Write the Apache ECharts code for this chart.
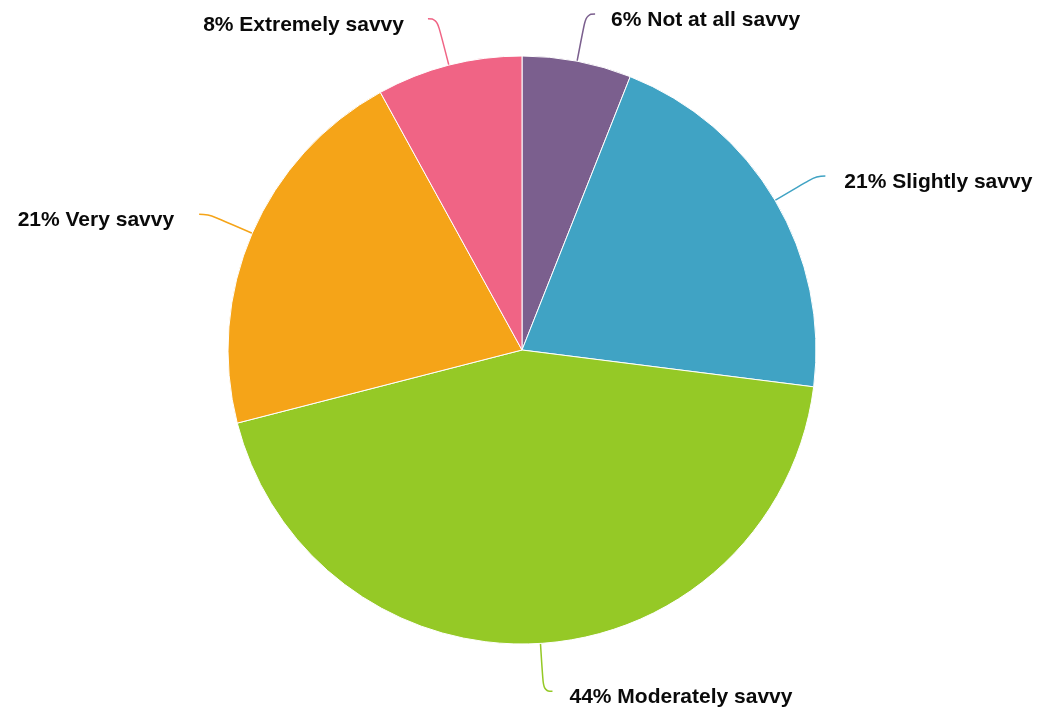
<!DOCTYPE html>
<html>
<head>
<meta charset="utf-8">
<script src="https://cdn.jsdelivr.net/npm/echarts@6/dist/echarts.min.js"></script>
<style>
  html, body { margin: 0; padding: 0; background: #fff; }
  #chart { width: 1042px; height: 714px; }
</style>
</head>
<body>
<div id="chart"></div>
<script>
// Survey: self-rated savviness, share of respondents (%)
const categories = ['Not at all savvy', 'Slightly savvy', 'Moderately savvy', 'Very savvy', 'Extremely savvy'];
const shares = [6, 21, 44, 21, 8];
const colors = ['#7b5f8e', '#40a3c4', '#95c926', '#f5a418', '#f06485'];
// gap between each leader line and its text
const labelGaps = [16, 19, 17, 25, 24];

const chart = echarts.init(document.getElementById('chart'), null, { renderer: 'canvas' });

chart.setOption({
  animation: false,
  backgroundColor: '#ffffff',
  series: [{
    type: 'pie',
    center: [522, 350],
    radius: [0, 294],
    startAngle: 90,
    clockwise: true,
    avoidLabelOverlap: false,
    data: categories.map((name, i) => ({
      name,
      value: shares[i],
      itemStyle: { color: colors[i] },
      label: { distanceToLabelLine: labelGaps[i] }
    })),
    itemStyle: { borderColor: '#ffffff', borderWidth: 1 },
    label: {
      show: true,
      position: 'outside',
      // text sits a little below the end of its leader line
      formatter: p => '{t|' + p.value + '% ' + p.name + '}',
      rich: {
        t: {
          fontFamily: '"Liberation Sans", Arial, sans-serif',
          fontWeight: 'bold',
          fontSize: 21,
          color: '#0a0a0a',
          padding: [12, 0, 0, 0]
        }
      }
    },
    labelLine: {
      show: true,
      length: 48,
      length2: 9,
      smooth: 0.5,
      lineStyle: { width: 1.5 }
    }
  }]
});
</script>
</body>
</html>
